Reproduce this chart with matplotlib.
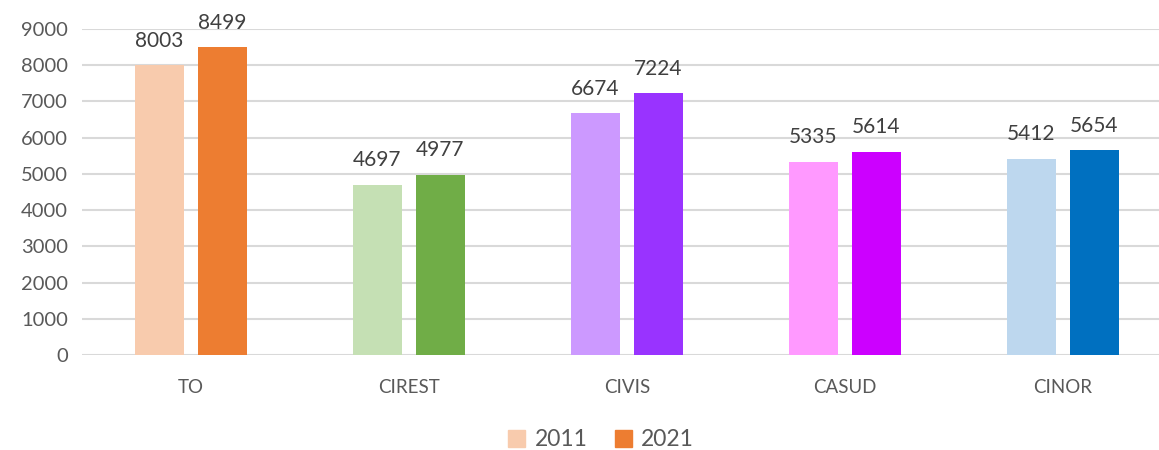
import numpy as np
import matplotlib.pyplot as plt
from matplotlib.patches import Patch

plt.rcParams['font.family'] = ['Lato', 'DejaVu Sans']

categories = ['TO', 'CIREST', 'CIVIS', 'CASUD', 'CINOR']
values_2011 = [8003, 4697, 6674, 5335, 5412]
values_2021 = [8499, 4977, 7224, 5614, 5654]
colors_2011 = ['#F8CBAD', '#C5E0B4', '#CC99FF', '#FF99FF', '#BDD7EE']
colors_2021 = ['#ED7D31', '#70AD47', '#9933FF', '#CC00FF', '#0070C0']

fig = plt.figure(figsize=(11.59, 4.5), dpi=100)
ax = fig.add_axes([82 / 1159, 95 / 450, 1090 / 1159, 326 / 450])

x = np.arange(len(categories))
w = 0.225
off = 0.1445
b1 = ax.bar(x - off, values_2011, w, color=colors_2011, zorder=3)
b2 = ax.bar(x + off, values_2021, w, color=colors_2021, zorder=3)

# value labels above bars
for bars, vals in [(b1, values_2011), (b2, values_2021)]:
    for r, v in zip(bars, vals):
        ax.annotate(str(v), (r.get_x() + r.get_width() / 2, v),
                    xytext=(0, 10.5), textcoords='offset points',
                    ha='center', va='bottom', fontsize=15,
                    color='#404040', annotation_clip=False)

ax.set_xlim(-0.5, len(categories) - 0.5)
ax.set_ylim(0, 9000)
ax.set_yticks(range(0, 9001, 1000))
ax.yaxis.grid(True, color='#D9D9D9', linewidth=1.5, zorder=0)
ax.set_axisbelow(True)
for s in ax.spines.values():
    s.set_visible(False)
ax.tick_params(axis='both', length=0, colors='#595959', labelsize=14.5)
ax.tick_params(axis='y', pad=10)
ax.tick_params(axis='x', pad=17)
ax.set_xticks(x)
ax.set_xticklabels(categories, fontsize=13.5)

handles = [Patch(color=colors_2011[0], label='2011'),
           Patch(color=colors_2021[0], label='2021')]
fig.legend(handles=handles, loc='center', bbox_to_anchor=(601 / 1159, 1 - 440 / 450),
           ncol=2, frameon=False, fontsize=16.5, handlelength=0.75, handleheight=0.75,
           handletextpad=0.4, columnspacing=1.2, labelcolor='#595959')

fig.savefig('out.png', dpi=100)
